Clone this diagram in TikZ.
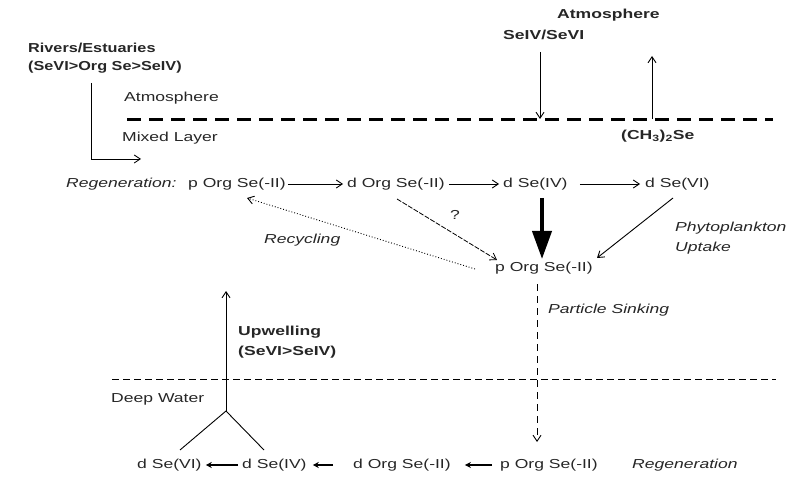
\documentclass[tikz,border=0pt]{standalone}
\usepackage{fontspec}
\setmainfont{Liberation Sans}[FakeStretch=1.35]
\newfontfamily\rivfont{Liberation Sans}[FakeStretch=1.25]
\usetikzlibrary{arrows.meta}
\begin{document}
\begin{tikzpicture}[x=1pt,y=-1pt,
  lbl/.style={inner sep=0pt, anchor=west, text=black!85, font=\fontsize{13}{15}\selectfont},
  blbl/.style={lbl, font=\fontsize{13}{15}\selectfont\bfseries},
  rlbl/.style={lbl, font=\rivfont\fontsize{13}{15}\selectfont\bfseries},
  ilbl/.style={lbl, font=\fontsize{13}{15}\selectfont\itshape},
  arr/.style={line width=0.9pt, -{Straight Barb[length=6pt,width=8pt]}},
  sarr/.style={line width=1.6pt, -{Stealth[length=6pt,width=6pt]}}
]
\useasboundingbox (0,0) rectangle (792,478);

% top labels
\node[rlbl] (riv1) at (28,48) {Rivers/Estuaries};
\node[rlbl] (riv2) at (28,67) {(SeVI>Org Se>SeIV)};
\node[lbl] (atm) at (124,98) {Atmosphere};
\node[lbl] (mix) at (122,138) {Mixed Layer};
\node[blbl] (atm2) at (557,15) {Atmosphere};
\node[blbl] (seiv) at (503,35) {SeIV/SeVI};
\node[blbl] (ch3) at (621,136) {(CH\textsubscript{3})\textsubscript{2}Se};

% surface line
\coordinate (s1) at (127,120);
\coordinate (s2) at (773,120);
\draw[line width=3pt, dash pattern=on 14pt off 8pt] (s1) -- (s2);

% atmosphere exchange
\coordinate (dtop) at (540,52);
\coordinate (dbot) at (540,119);
\coordinate (utop) at (652,56);
\coordinate (ubot) at (652,119);
\draw[arr] (dtop) -- (dbot);
\draw[arr] (ubot) -- (utop);

% river input
\coordinate (rtop) at (91,83);
\coordinate (rend) at (141,159);
\draw[arr] (rtop) |- (rend);

% regeneration row
\node[ilbl] (reg) at (66,184) {Regeneration:};
\node[lbl] (a1) at (188,184) {p Org Se(-II)};
\node[lbl] (a2) at (347,184) {d Org Se(-II)};
\node[lbl] (a3) at (503,184) {d Se(IV)};
\node[lbl] (a4) at (645,184) {d Se(VI)};
\draw[arr] ([xshift=2pt]a1.east) -- ([xshift=-4pt]a2.west);
\draw[arr] ([xshift=4pt]a2.east) -- ([xshift=-4pt]a3.west);
\draw[arr] ([xshift=12pt]a3.east) -- ([xshift=-5pt]a4.west);

% particulate
\node[lbl] (pm) at (495,268) {p Org Se(-II)};
\coordinate (thtop) at (542,198);
\coordinate (thbot) at (542,259);
\draw[line width=4pt, -{Triangle[length=28pt,width=19pt]}] (thtop) -- (thbot);

\coordinate (q1) at (397,199);
\coordinate (q2) at (497,260);
\draw[line width=0.8pt, dash pattern=on 5pt off 1.5pt, -{Straight Barb[length=6pt,width=8pt]}] (q1) -- (q2);
\node[lbl] (qm) at (450,215) {?};

\coordinate (r1) at (475,269);
\coordinate (r2) at (247,198);
\draw[line width=0.9pt, dotted, -{Straight Barb[length=6pt,width=8pt]}] (r1) -- (r2);
\node[ilbl] (rec) at (264,240) {Recycling};

\coordinate (p1) at (673,198);
\coordinate (p2) at (597,258);
\draw[arr] (p1) -- (p2);
\node[ilbl] (phy1) at (675,228) {Phytoplankton};
\node[ilbl] (phy2) at (675,248) {Uptake};

% particle sinking
\coordinate (ps1) at (537,284);
\coordinate (ps2) at (537,442);
\draw[line width=0.9pt, dash pattern=on 7pt off 5pt, -{Straight Barb[length=6pt,width=8pt]}] (ps1) -- (ps2);
\node[ilbl] (psl) at (548,310) {Particle Sinking};

% deep water line
\coordinate (d1) at (112,379);
\coordinate (d2) at (776,379);
\draw[line width=1pt, dash pattern=on 7pt off 4pt] (d1) -- (d2);
\node[lbl] (dw) at (111,399) {Deep Water};

% upwelling
\coordinate (uj) at (226,411);
\coordinate (ut) at (226,291);
\coordinate (ul) at (180,450);
\coordinate (ur) at (264,450);
\draw[arr] (uj) -- (ut);
\draw[line width=0.9pt] (ul) -- (uj) -- (ur);
\node[blbl] (up1) at (238,332) {Upwelling};
\node[blbl] (up2) at (238,352) {(SeVI>SeIV)};

% bottom row
\node[lbl] (b1) at (137,465) {d Se(VI)};
\node[lbl] (b2) at (242,465) {d Se(IV)};
\node[lbl] (b3) at (353,465) {d Org Se(-II)};
\node[lbl] (b4) at (500,465) {p Org Se(-II)};
\node[ilbl] (breg) at (632,465) {Regeneration};
\draw[sarr] ([xshift=-4pt]b2.west) -- ([xshift=4pt]b1.east);
\draw[sarr] ([xshift=-20pt]b3.west) -- ([xshift=6pt]b2.east);
\draw[sarr] ([xshift=-8pt]b4.west) -- ([xshift=14pt]b3.east);
\end{tikzpicture}
\end{document}
